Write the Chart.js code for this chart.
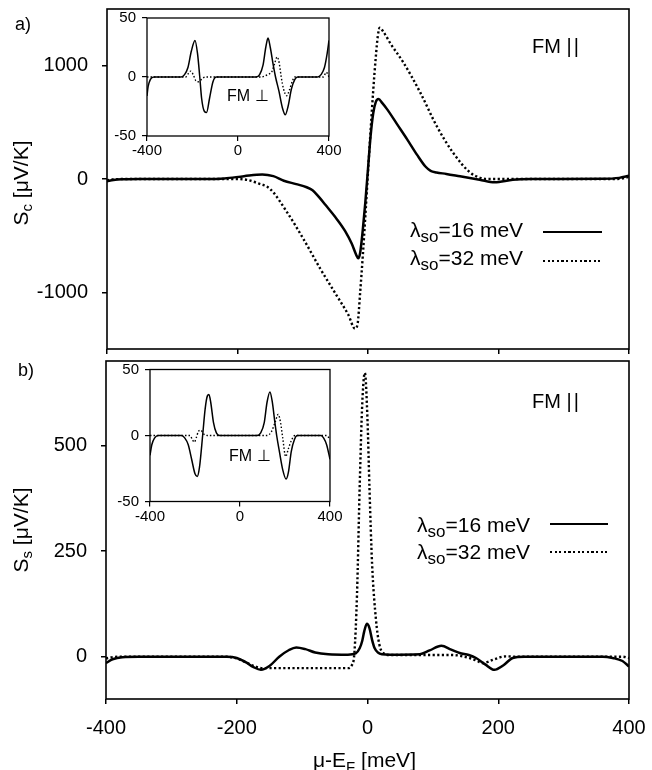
<!DOCTYPE html>
<html>
<head>
<meta charset="utf-8">
<script src="https://cdn.jsdelivr.net/npm/chart.js@4/dist/chart.umd.min.js"></script>
<style>
  html, body { margin: 0; padding: 0; background: #fff; }
  #wrap { position: relative; width: 652px; height: 770px; overflow: hidden;
          font-family: 'Liberation Sans', Arial, sans-serif; color: #000; }
  #wrap canvas { position: absolute; }
  .t { position: absolute; white-space: nowrap; line-height: 1; }
  .sub { position: relative; }
  .ytitle { position: absolute; white-space: nowrap; font-size: 21px; line-height: 21px;
            transform: translate(-50%, -50%) rotate(-90deg); }
  .solid { position: absolute; height: 2.5px; background: #000; }
  .dots  { position: absolute; height: 2.2px;
           background: repeating-linear-gradient(90deg, #000 0 2.2px, transparent 2.2px 4.6px); }
</style>
</head>
<body>
<div id="wrap">
  <canvas id="mainC" width="652" height="360" style="left:0;top:0;"></canvas>
  <canvas id="mainS" width="652" height="418" style="left:0;top:352px;"></canvas>
  <canvas id="insetC" width="255" height="160" style="left:100px;top:8px;"></canvas>
  <canvas id="insetS" width="255" height="165" style="left:100px;top:360px;"></canvas>

  <!-- panel tags -->
  <div class="t" style="left:15px;top:15px;font-size:18px;">a)</div>
  <div class="t" style="left:18px;top:361px;font-size:18px;">b)</div>

  <!-- axis titles -->
  <div class="ytitle" style="left:20.7px;top:183px;">S<span class="sub" style="font-size:15px;top:4px;">c</span> [μV/K]</div>
  <div class="ytitle" style="left:20.7px;top:530px;">S<span class="sub" style="font-size:15px;top:4px;">s</span> [μV/K]</div>
  <div class="t" style="left:313px;top:749px;font-size:21px;">μ-E<span class="sub" style="font-size:15px;top:5px;">F</span> [meV]</div>

  <!-- orientation labels -->
  <div class="t" style="left:532px;top:36px;font-size:20px;">FM <span style="letter-spacing:2px;">||</span></div>
  <div class="t" style="left:532px;top:391px;font-size:20px;">FM <span style="letter-spacing:2px;">||</span></div>
  <div class="t" style="left:227px;top:88px;font-size:16px;">FM ⊥</div>
  <div class="t" style="left:229px;top:448px;font-size:16px;">FM ⊥</div>

  <!-- legend, panel a -->
  <div class="t" style="left:410px;top:219px;font-size:21px;">λ<span class="sub" style="font-size:17px;top:5px;">so</span>=16 meV</div>
  <div class="t" style="left:410px;top:247px;font-size:21px;">λ<span class="sub" style="font-size:17px;top:5px;">so</span>=32 meV</div>
  <div class="solid" style="left:543px;top:230.5px;width:59px;"></div>
  <div class="dots"  style="left:543px;top:259.5px;width:58px;"></div>

  <!-- legend, panel b -->
  <div class="t" style="left:417px;top:514px;font-size:21px;">λ<span class="sub" style="font-size:17px;top:5px;">so</span>=16 meV</div>
  <div class="t" style="left:417px;top:541px;font-size:21px;">λ<span class="sub" style="font-size:17px;top:5px;">so</span>=32 meV</div>
  <div class="solid" style="left:550px;top:522.8px;width:58px;"></div>
  <div class="dots"  style="left:550px;top:551px;width:58px;"></div>
</div>

<script>
// ---- axis ticks ----
const energyTicks = [-400, -200, 0, 200, 400];
const chargeTicks = [-1000, 0, 1000];
const spinTicks = [0, 250, 500];
const insetEnergyTicks = [-400, 0, 400];
const insetTicks = [-50, 0, 50];

// ---- charge Seebeck coefficient, in-plane magnetisation (panel a) ----
const scX16 = [-400,-390,-375,-350,-250,-220,-190,-162,-145,-129,-110,-94,-85,-75,-65,-48,-35,-25,-18,-15,-12,-8,-4,0,4,8,12,16,22,30,45,60,75,88,96,105,120,141,171,194,222,250,360,385,400];
const scY16 = [-20,-8,-2,0,0,5,25,40,25,-15,-45,-73,-100,-160,-230,-352,-460,-570,-670,-700,-650,-450,-200,90,380,580,680,705,670,610,480,350,215,110,72,58,45,24,-6,-29,-6,0,2,10,28];
const scX32 = [-400,-390,-375,-200,-185,-170,-150,-124,-99,-73,-48,-30,-20,-16,-12,-8,-4,0,4,8,12,15,18,24,35,54,80,105,130,156,170,181,200,380,390,400];
const scY32 = [-10,-3,0,0,-8,-35,-88,-294,-529,-793,-1028,-1200,-1320,-1280,-1000,-680,-320,60,430,780,1080,1260,1335,1295,1190,1030,764,470,235,59,15,0,0,0,5,20];

// ---- spin Seebeck coefficient, in-plane magnetisation (panel b) ----
const ssX16 = [-400,-390,-375,-350,-215,-200,-185,-175,-163,-150,-135,-120,-109,-95,-80,-60,-30,-18,-12,-8,-5,-1,3,7,11,16,22,35,80,95,113,128,141,155,166,180,194,208,222,240,360,375,390,400];
const ssY16 = [-15,-6,-1,0,0,-3,-14,-24,-31,-22,0,16,22,18,10,6,5,8,20,38,60,78,68,40,20,10,6,5,6,15,26,17,9,4,-3,-18,-31,-20,-3,0,0,-3,-10,-23];
const ssX32 = [-400,-390,-380,-215,-200,-185,-170,-160,-140,-100,-60,-30,-24,-20,-16,-12,-8,-4,0,3,7,13,18,24,35,130,156,168,176,184,192,212,230,390,400];
const ssY32 = [-4,-1,0,0,-4,-14,-24,-27,-27,-27,-27,-27,-20,10,150,400,600,672,560,400,220,87,30,9,4,4,-3,-10,-15,-12,-7,1,0,0,-3];

// ---- perpendicular magnetisation, charge (inset a) ----
const icX16 = [-400,-395,-385,-370,-250,-235,-220,-205,-189,-178,-168,-160,-148,-138,-125,-110,-95,80,95,110,122,132,142,155,165,180,195,208,220,235,250,262,350,365,380,392,400];
const icY16 = [-16,-8,-2,0,0,2,8,22,31,20,0,-18,-29,-30,-18,-4,0,0,2,10,25,33,25,10,0,-12,-26,-32,-25,-10,-2,0,0,2,8,20,31];
const icX32 = [-400,-230,-218,-208,-197,-186,-175,-160,-145,100,130,150,162,172,181,190,200,214,226,238,250,375,388,400];
const icY32 = [0,0,3,5,2,-3,-4,-2,0,0,2,5,12,17,12,0,-10,-16,-11,-4,0,0,4,0];

// ---- perpendicular magnetisation, spin (inset b) ----
const isX16 = [-400,-392,-380,-363,-260,-245,-230,-215,-200,-190,-180,-166,-155,-145,-138,-130,-118,-105,-90,75,92,108,120,133,143,155,163,175,190,205,215,228,242,255,360,372,385,400];
const isY16 = [-15,-7,-2,0,0,-2,-7,-18,-29,-31,-24,0,20,30,31,25,10,2,0,0,2,10,25,33,26,10,0,-12,-26,-33,-28,-12,-3,0,0,-2,-7,-18];
const isX32 = [-400,-222,-212,-203,-195,-185,-175,-160,-145,120,140,156,170,180,190,203,215,228,244,385,400];
const isY32 = [0,0,-3,-5,-2,3,4,1,0,0,3,10,16,10,-2,-16,-10,-4,0,0,-3];

Chart.defaults.font.family = "'Liberation Sans', Arial, sans-serif";
Chart.defaults.color = '#000';

// frame around the plot area; insets get an opaque white plot area
const framePlugin = {
  id: 'frame',
  beforeDraw(chart, args, opts) {
    if (!opts.fill) return;
    const a = chart.chartArea, ctx = chart.ctx;
    ctx.save();
    ctx.fillStyle = '#fff';
    ctx.fillRect(a.left, a.top, a.right - a.left, a.bottom - a.top);
    ctx.restore();
  },
  afterDraw(chart, args, opts) {
    const a = chart.chartArea, ctx = chart.ctx;
    ctx.save();
    ctx.strokeStyle = '#000';
    ctx.lineWidth = opts.width || 1.5;
    ctx.strokeRect(a.left, a.top, a.right - a.left, a.bottom - a.top);
    ctx.restore();
  }
};

function axis(min, max, tickValues, size, opts) {
  return {
    type: 'linear', min, max,
    afterBuildTicks: s => { s.ticks = tickValues.map(v => ({ value: v })); },
    afterFit: s => {
      if (s.isHorizontal()) s.height = size; else s.width = size;
      s.paddingLeft = s.paddingRight = s.paddingTop = s.paddingBottom = 0;
    },
    ticks: {
      display: opts.labels !== false,
      padding: opts.pad, autoSkip: false, maxRotation: 0,
      font: { size: opts.font }, color: '#000',
      callback: v => String(v)
    },
    grid: { display: true, drawOnChartArea: false, drawTicks: true,
            tickLength: opts.tick, color: '#000', lineWidth: opts.lw },
    border: { display: false }
  };
}

function series(xs, ys, dotted, width, dash) {
  return {
    data: xs.map((x, i) => ({ x, y: ys[i] })),
    borderColor: '#000', borderWidth: width,
    borderDash: dotted ? dash : [],
    pointRadius: 0, fill: false, tension: 0,
    cubicInterpolationMode: 'monotone', borderCapStyle: 'butt'
  };
}

function makeChart(id, datasets, scales, padding, frame) {
  return new Chart(document.getElementById(id), {
    type: 'line',
    data: { datasets },
    options: {
      responsive: false, animation: false, devicePixelRatio: 1, events: [],
      layout: { padding },
      scales,
      plugins: { legend: { display: false }, tooltip: { enabled: false }, frame }
    },
    plugins: [framePlugin]
  });
}

const mainDash = [2.2, 2.4];
const insetDash = [1.5, 2];

// panel a
makeChart('mainC',
  [series(scX16, scY16, false, 2.5), series(scX32, scY32, true, 2.4, mainDash)],
  {
    x: axis(-400, 400, energyTicks, 11, { labels: false, pad: 12, font: 20, tick: 5, lw: 1.5 }),
    y: axis(-1500, 1500, chargeTicks, 107, { pad: 14, font: 20, tick: 5, lw: 1.5 })
  },
  { left: 0, top: 9, right: 23, bottom: 0 }, { width: 1.6 });

// panel b
makeChart('mainS',
  [series(ssX16, ssY16, false, 2.5), series(ssX32, ssY32, true, 2.4, mainDash)],
  {
    x: axis(-400, 400, energyTicks, 71, { pad: 12, font: 20, tick: 5, lw: 1.5 }),
    y: axis(-100, 700, spinTicks, 106, { pad: 14, font: 20, tick: 5, lw: 1.5 })
  },
  { left: 0, top: 9, right: 23, bottom: 0 }, { width: 1.6 });

// inset a
makeChart('insetC',
  [series(icX16, icY16, false, 1.5), series(icX32, icY32, true, 1.4, insetDash)],
  {
    x: axis(-400, 400, insetEnergyTicks, 32, { pad: 1, font: 15, tick: 5, lw: 1.2 }),
    y: axis(-50, 50, insetTicks, 47, { pad: 6, font: 15, tick: 5, lw: 1.2 })
  },
  { left: 0, top: 10, right: 26, bottom: 0 }, { fill: true, width: 1.3 });

// inset b
makeChart('insetS',
  [series(isX16, isY16, false, 1.5), series(isX32, isY32, true, 1.4, insetDash)],
  {
    x: axis(-400, 400, insetEnergyTicks, 23.5, { pad: 1, font: 15, tick: 5, lw: 1.2 }),
    y: axis(-50, 50, insetTicks, 50, { pad: 6, font: 15, tick: 5, lw: 1.2 })
  },
  { left: 0, top: 9.5, right: 25, bottom: 0 }, { fill: true, width: 1.3 });
</script>
</body>
</html>
